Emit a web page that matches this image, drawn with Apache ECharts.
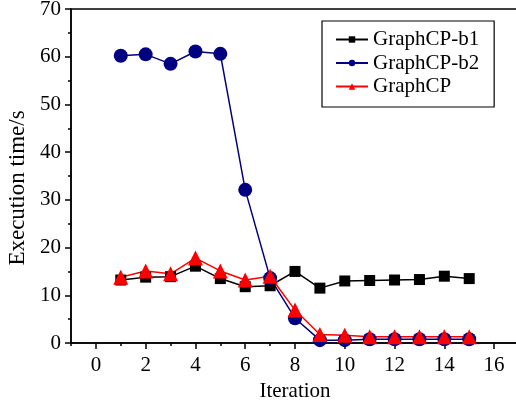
<!DOCTYPE html>
<html>
<head>
<meta charset="utf-8">
<script src="https://cdn.jsdelivr.net/npm/echarts@6/dist/echarts.min.js"></script>
<style>
html, body { margin: 0; padding: 0; background: #fff; overflow: hidden; }
#chart { width: 516px; height: 407px; }
</style>
</head>
<body>
<div id="chart"></div>
<script>
var iterations = [1, 2, 3, 4, 5, 6, 7, 8, 9, 10, 11, 12, 13, 14, 15];
var b1_times = [13.2, 13.8, 13.9, 16.1, 13.5, 11.8, 12.0, 15.0, 11.5, 13.0, 13.1, 13.2, 13.3, 14.0, 13.5];
var b2_times = [60.2, 60.5, 58.5, 61.1, 60.6, 32.1, 13.6, 5.2, 0.6, 0.6, 0.8, 0.8, 0.8, 0.8, 0.8];
var cp_times = [13.8, 15.1, 14.5, 17.8, 15.1, 13.2, 14.0, 6.9, 1.8, 1.6, 1.3, 1.3, 1.3, 1.3, 1.3];
var x_labels = [0, 2, 4, 6, 8, 10, 12, 14, 16];
var series_names = ["GraphCP-b1", "GraphCP-b2", "GraphCP"];

var font = "'Liberation Serif', 'Times New Roman', serif";

function pairs(vals) {
    return iterations.map(function(x, i) { return [x, vals[i]]; });
}

var chart = echarts.init(document.getElementById("chart"));
chart.setOption({
    animation: false,
    textStyle: { fontFamily: font },
    grid: {
        left: 71, top: 9, width: 448, height: 334,
        containLabel: false,
        outerBoundsMode: "none",
        show: true, borderColor: "#000", borderWidth: 1.5
    },
    legend: {
        orient: "vertical",
        left: 322, top: 21,
        padding: [8, 15, 10, 13],
        itemGap: 2.5,
        itemWidth: 32,
        itemHeight: 8,
        borderColor: "#000",
        borderWidth: 1.2,
        textStyle: { fontFamily: font, fontSize: 21, color: "#000" },
        data: series_names
    },
    xAxis: [{
        type: "value",
        min: -1, max: 17, interval: 2,
        name: "Iteration",
        nameLocation: "middle",
        nameGap: 38,
        nameTextStyle: { fontFamily: font, fontSize: 21, color: "#000" },
        axisLine: { onZero: false, lineStyle: { color: "#000", width: 1.5 } },
        axisTick: { length: 3, lineStyle: { color: "#000", width: 1.5 } },
        axisLabel: { show: false },
        splitLine: { show: false }
    }, {
        type: "value",
        position: "bottom",
        min: -1, max: 17,
        axisLine: { show: false, onZero: false },
        axisTick: { customValues: x_labels, length: 6, lineStyle: { color: "#000", width: 1.5 } },
        axisLabel: { customValues: x_labels, margin: 12, fontFamily: font, fontSize: 21, color: "#000" },
        splitLine: { show: false }
    }],
    yAxis: {
        type: "value",
        min: 0, max: 70, interval: 10,
        name: "Execution time/s",
        nameLocation: "middle",
        nameGap: 40,
        nameTextStyle: { fontFamily: font, fontSize: 23, color: "#000", padding: [0, 24, 0, 0] },
        axisLine: { show: true, onZero: false, lineStyle: { color: "#000", width: 1.5 } },
        axisTick: { length: 6, lineStyle: { color: "#000", width: 1.5 } },
        minorTick: { show: true, splitNumber: 2, length: 3, lineStyle: { color: "#000", width: 1.5 } },
        axisLabel: { margin: 10, fontFamily: font, fontSize: 21, color: "#000" },
        splitLine: { show: false }
    },
    series: [{
        name: series_names[0],
        type: "line",
        data: pairs(b1_times),
        symbol: "rect",
        symbolSize: 11,
        itemStyle: { color: "#000" },
        lineStyle: { color: "#000", width: 1.5 }
    }, {
        name: series_names[1],
        type: "line",
        data: pairs(b2_times),
        symbol: "circle",
        symbolSize: 14,
        itemStyle: { color: "#000080" },
        lineStyle: { color: "#000080", width: 1.5 }
    }, {
        name: series_names[2],
        type: "line",
        data: pairs(cp_times),
        symbol: "triangle",
        symbolSize: 15,
        itemStyle: { color: "#ff0000" },
        lineStyle: { color: "#ff0000", width: 1.5 }
    }]
});
</script>
</body>
</html>
